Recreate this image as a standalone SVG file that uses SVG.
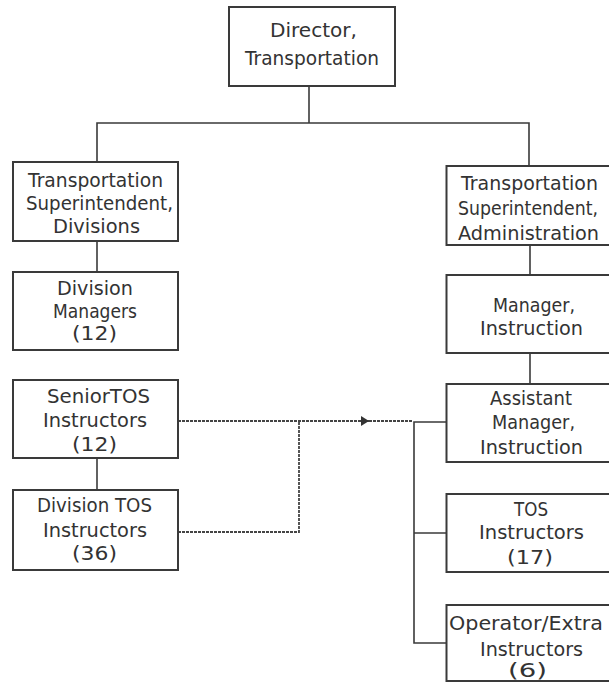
<svg xmlns="http://www.w3.org/2000/svg" width="609" height="682" viewBox="0 0 609 682">
<style>
.box{fill:#fff;stroke:#3a3a3a;stroke-width:2}
.t{font-family:"DejaVu Sans","Liberation Sans",sans-serif;font-size:19.5px;fill:#333;text-anchor:middle}
.ln{fill:none;stroke:#3a3a3a;stroke-width:1.6}
.dot{fill:none;stroke:#444;stroke-width:1.8;stroke-dasharray:3 1}
</style>
<defs>
<marker id="arr" markerWidth="9" markerHeight="11" refX="8" refY="5.5" orient="auto" markerUnits="userSpaceOnUse"><path d="M0,0.5 L8,5.5 L0,10.5 z" fill="#333"/></marker>
</defs>
<rect width="609" height="682" fill="#fff"/>
<g id="connectors">
<path class="ln" d="M309,86 V123"/>
<path class="ln" d="M97,162 V123 H529 V166"/>
<path class="ln" d="M97,241 V272"/>
<path class="ln" d="M530,245 V275"/>
<path class="ln" d="M530,353 V384"/>
<path class="ln" d="M97,458 V490"/>
<path class="ln" d="M446,422 H414 V643 H447"/>
<path class="ln" d="M414,533 H447"/>
<path class="dot" d="M178,421 H369" marker-end="url(#arr)"/>
<path class="dot" d="M369,421 H413"/>
<path class="dot" d="M178,532 H299 V421"/>
</g>
<g id="director">
<rect class="box" x="229" y="7" width="166" height="79"/>
<text class="t" x="313.5" y="37" textLength="87" lengthAdjust="spacingAndGlyphs">Director,</text>
<text class="t" x="312" y="65" textLength="134" lengthAdjust="spacingAndGlyphs">Transportation</text>
</g>
<g id="supt-divisions">
<rect class="box" x="13" y="162" width="165" height="79"/>
<text class="t" x="95.5" y="187" textLength="135" lengthAdjust="spacingAndGlyphs">Transportation</text>
<text class="t" x="99.5" y="210" textLength="147" lengthAdjust="spacingAndGlyphs">Superintendent,</text>
<text class="t" x="96.5" y="233" textLength="87" lengthAdjust="spacingAndGlyphs">Divisions</text>
</g>
<g id="supt-admin">
<rect class="box" x="446.5" y="166" width="166" height="79"/>
<text class="t" x="529.5" y="190" textLength="137" lengthAdjust="spacingAndGlyphs">Transportation</text>
<text class="t" x="528" y="215" font-size="18" textLength="140" lengthAdjust="spacingAndGlyphs">Superintendent,</text>
<text class="t" x="528.5" y="240" textLength="141" lengthAdjust="spacingAndGlyphs">Administration</text>
</g>
<g id="division-managers">
<rect class="box" x="13" y="272" width="165" height="78"/>
<text class="t" x="95" y="295" textLength="76" lengthAdjust="spacingAndGlyphs">Division</text>
<text class="t" x="95" y="318" textLength="84" lengthAdjust="spacingAndGlyphs">Managers</text>
<text class="t" x="94.5" y="340" textLength="45" lengthAdjust="spacingAndGlyphs">(12)</text>
</g>
<g id="manager-instruction">
<rect class="box" x="446.5" y="275" width="166" height="78"/>
<text class="t" x="534" y="312" textLength="82" lengthAdjust="spacingAndGlyphs">Manager,</text>
<text class="t" x="531.5" y="335" textLength="103" lengthAdjust="spacingAndGlyphs">Instruction</text>
</g>
<g id="senior-tos">
<rect class="box" x="13" y="380" width="165" height="78"/>
<text class="t" x="98.5" y="403" textLength="103" lengthAdjust="spacingAndGlyphs">SeniorTOS</text>
<text class="t" x="95" y="427" textLength="104" lengthAdjust="spacingAndGlyphs">Instructors</text>
<text class="t" x="94.5" y="451" textLength="45" lengthAdjust="spacingAndGlyphs">(12)</text>
</g>
<g id="assistant-manager">
<rect class="box" x="446.5" y="384" width="166" height="78"/>
<text class="t" x="531" y="405" textLength="82" lengthAdjust="spacingAndGlyphs">Assistant</text>
<text class="t" x="533.5" y="429" textLength="83" lengthAdjust="spacingAndGlyphs">Manager,</text>
<text class="t" x="531.5" y="454" textLength="103" lengthAdjust="spacingAndGlyphs">Instruction</text>
</g>
<g id="division-tos">
<rect class="box" x="13" y="490" width="165" height="80"/>
<text class="t" x="94.5" y="512" textLength="115" lengthAdjust="spacingAndGlyphs">Division TOS</text>
<text class="t" x="95" y="537" textLength="104" lengthAdjust="spacingAndGlyphs">Instructors</text>
<text class="t" x="94.5" y="560" textLength="45" lengthAdjust="spacingAndGlyphs">(36)</text>
</g>
<g id="tos-instructors">
<rect class="box" x="446.5" y="494" width="166" height="78"/>
<text class="t" x="531" y="516" textLength="34" lengthAdjust="spacingAndGlyphs">TOS</text>
<text class="t" x="531.5" y="539" textLength="105" lengthAdjust="spacingAndGlyphs">Instructors</text>
<text class="t" x="530" y="564" textLength="46" lengthAdjust="spacingAndGlyphs">(17)</text>
</g>
<g id="operator-extra">
<rect class="box" x="446.5" y="605" width="166" height="76"/>
<text class="t" x="526" y="630" textLength="154" lengthAdjust="spacingAndGlyphs">Operator/Extra</text>
<text class="t" x="531.5" y="656" textLength="103" lengthAdjust="spacingAndGlyphs">Instructors</text>
<text class="t" x="527.5" y="677" textLength="39" lengthAdjust="spacingAndGlyphs">(6)</text>
</g>
</svg>
